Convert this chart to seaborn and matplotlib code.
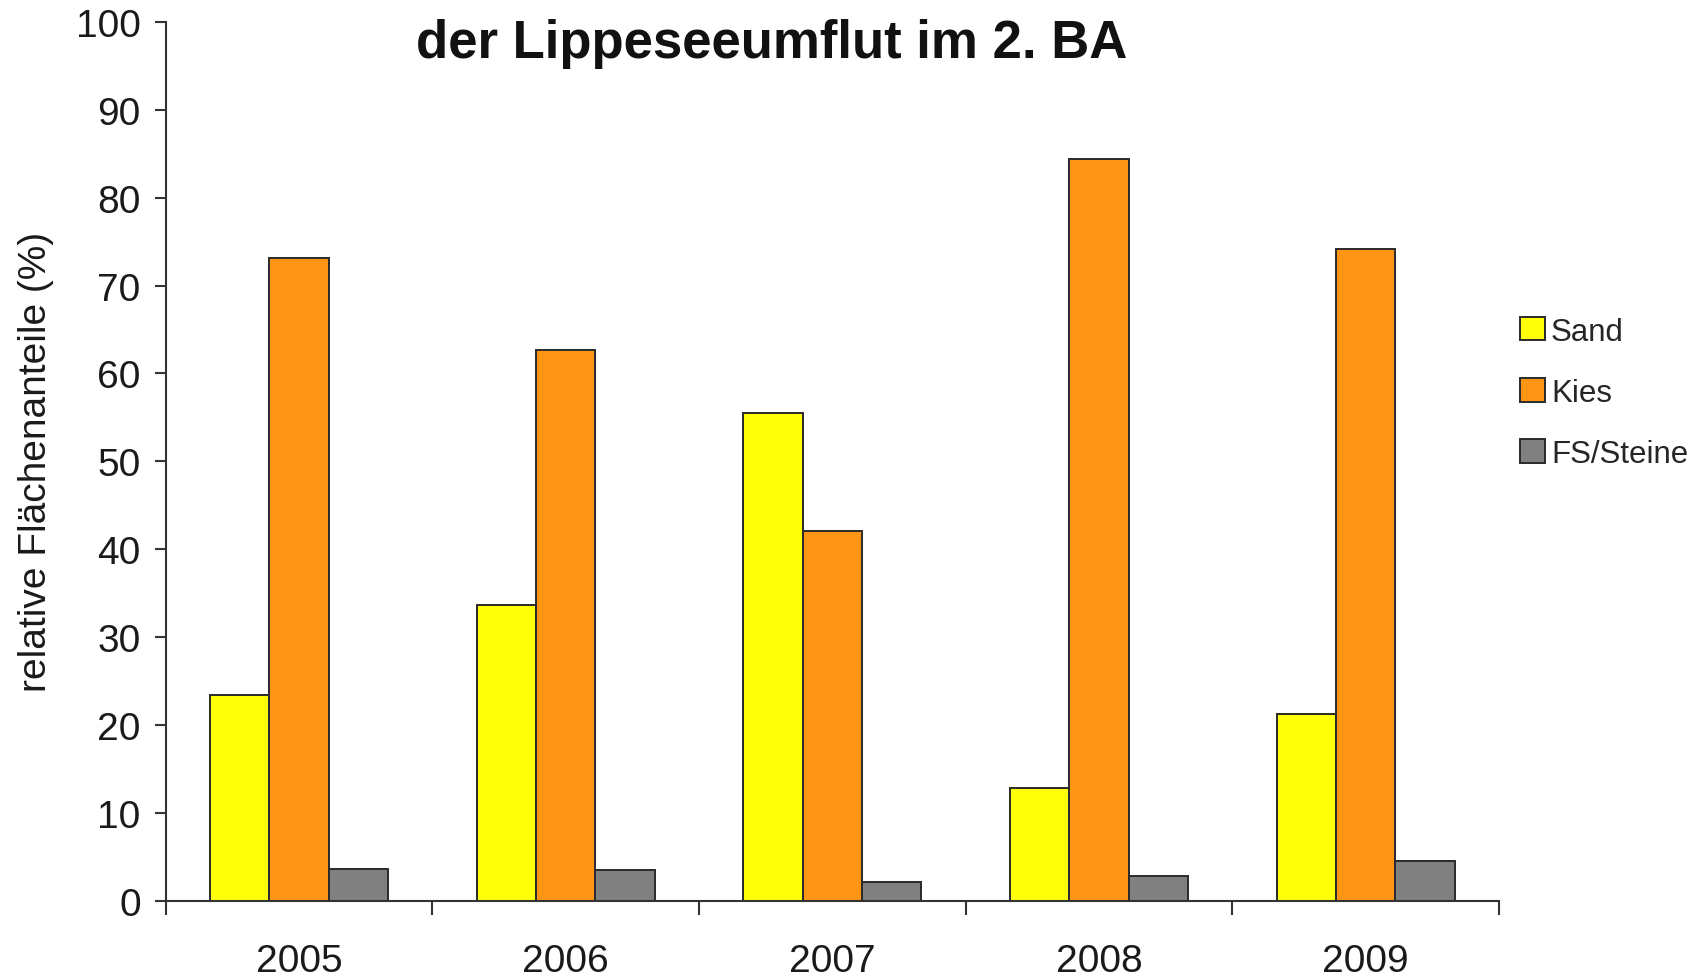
import numpy as np
import pandas as pd
import matplotlib
matplotlib.use("Agg")
import matplotlib.pyplot as plt
from matplotlib.ticker import FixedLocator
import seaborn as sns

years = ["2005", "2006", "2007", "2008", "2009"]
substrates = ["Sand", "Kies", "FS/Steine"]
sand = [23.4, 33.7, 55.5, 12.8, 21.3]
kies = [73.1, 62.7, 42.1, 84.4, 74.2]
steine = [3.6, 3.5, 2.2, 2.9, 4.5]
colors = ["#FFFF0A", "#FF9514", "#808080"]

df = pd.DataFrame({
    "Jahr": years * 3,
    "Substrat": [s for s in substrates for _ in years],
    "Anteil": sand + kies + steine,
})

sns.set_style("white")
plt.rcParams["font.family"] = ["Liberation Sans", "DejaVu Sans"]

fig = plt.figure(figsize=(17.08, 9.78), dpi=100)
ax = fig.add_axes([0.097, 0.0777, 0.7806, 0.899])

sns.barplot(data=df, x="Jahr", y="Anteil", hue="Substrat", hue_order=substrates,
            palette=colors, width=0.667, gap=0, edgecolor="#2a2a2a",
            linewidth=1.4, saturation=1, ax=ax)

ax.set_xlim(-0.5, 4.5)
ax.set_ylim(0, 100)
ax.set_yticks(np.arange(0, 101, 10))
ax.tick_params(axis="y", left=True, labelsize=28, length=8, width=1.5, pad=10,
               color="#333333", labelcolor="#1a1a1a")
ax.tick_params(axis="x", which="major", bottom=False, labelsize=28, length=0, pad=30,
               labelcolor="#1a1a1a")
ax.xaxis.set_minor_locator(FixedLocator(np.arange(-0.5, 5, 1)))
ax.tick_params(axis="x", which="minor", bottom=True, length=10, width=1.5,
               color="#333333", direction="out")
ax.set_xlabel("")
ax.set_ylabel("relative Flächenanteile (%)", fontsize=28, labelpad=16, color="#1a1a1a")

for s in ["top", "right"]:
    ax.spines[s].set_visible(False)
for s in ["left", "bottom"]:
    ax.spines[s].set_color("#333333")
    ax.spines[s].set_linewidth(1.5)

ax.legend(loc="center left", bbox_to_anchor=(0.995, 0.578), frameon=False,
          fontsize=22.5, handlelength=0.78, handleheight=0.78, handletextpad=0.2,
          labelspacing=1.0)

fig.text(0.452, 0.955, "der Lippeseeumflut im 2. BA", ha="center", va="center",
         fontsize=38, fontweight="bold", color="#111111")

fig.savefig("out.png", dpi=100)
